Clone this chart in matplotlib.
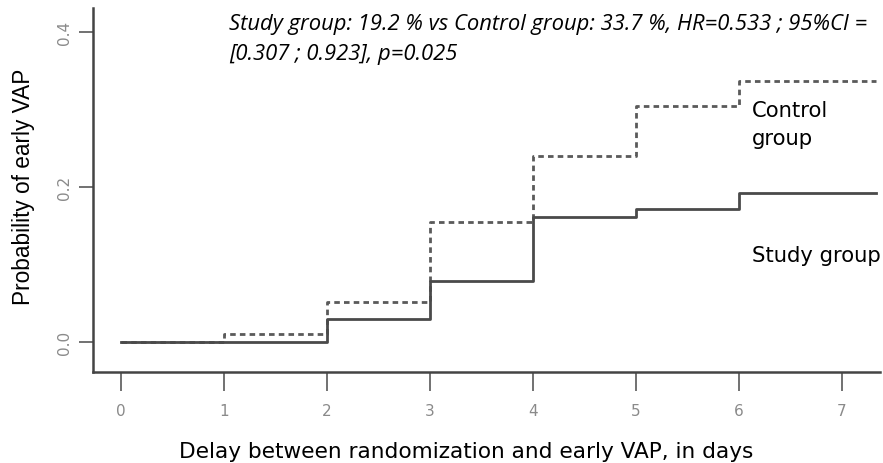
import matplotlib
matplotlib.use("Agg")
import matplotlib.pyplot as plt

# cumulative probability of early VAP at the start of each day
days = [0, 1, 2, 3, 4, 5, 6]
x_end = 7.33
study = [0.0, 0.0, 0.030, 0.079, 0.161, 0.172, 0.192]
control = [0.0, 0.011, 0.052, 0.155, 0.240, 0.305, 0.337]

x_ticks = [0, 1, 2, 3, 4, 5, 6, 7]
y_ticks = [0.0, 0.2, 0.4]
y_tick_labels = ["0.0", "0.2", "0.4"]

stats_line1 = "Study group: 19.2 % vs Control group: 33.7 %, HR=0.533 ; 95%CI ="
stats_line2 = "[0.307 ; 0.923], p=0.025"

fig = plt.figure(figsize=(8.83, 4.64), dpi=100)
ax = fig.add_axes([0.1053, 0.196, 0.8913, 0.7846])

xs = days + [x_end]
ax.step(xs, control + [control[-1]], where="post", color="#5a5a5a",
        lw=2.0, ls=(0, (2.0, 1.5)))
ax.step(xs, study + [study[-1]], where="post", color="#4a4a4a", lw=2.0)

ax.set_xlim(-0.272, 7.369)
ax.set_ylim(-0.0387, 0.431)

for s in ["top", "right"]:
    ax.spines[s].set_visible(False)
for s in ["left", "bottom"]:
    ax.spines[s].set_color("#444444")
    ax.spines[s].set_linewidth(1.8)

ax.set_xticks(x_ticks)
ax.set_xticklabels([str(t) for t in x_ticks], color="#8a8a8a", fontsize=11)
ax.set_yticks(y_ticks)
ax.set_yticklabels(y_tick_labels, color="#8a8a8a", fontsize=11,
                   rotation=90, va="center")
ax.tick_params(axis="x", length=14, width=1.3, color="#666666", pad=8)
ax.tick_params(axis="y", length=10, width=1.3, color="#666666", pad=5)

ax.set_xlabel("Delay between randomization and early VAP, in days",
              fontsize=15.6, va="center")
ax.xaxis.set_label_coords(0.474, -0.217)
ax.set_ylabel("Probability of early VAP", fontsize=16.3,
              family="Liberation Sans", va="center")
ax.yaxis.set_label_coords(-0.088, 0.511)

ax.text(1.05, 0.404, stats_line1, fontsize=15.8, style="italic",
        family="Open Sans", va="baseline", ha="left")
ax.text(1.05, 0.365, stats_line2, fontsize=15.8, style="italic",
        family="Open Sans", va="baseline", ha="left")
ax.text(6.126, 0.2916, "Control", fontsize=15.2, va="baseline", ha="left")
ax.text(6.126, 0.2555, "group", fontsize=15.2, va="baseline", ha="left")
ax.text(6.126, 0.1045, "Study group", fontsize=15.2, va="baseline", ha="left")

fig.savefig("out.png", dpi=100)
